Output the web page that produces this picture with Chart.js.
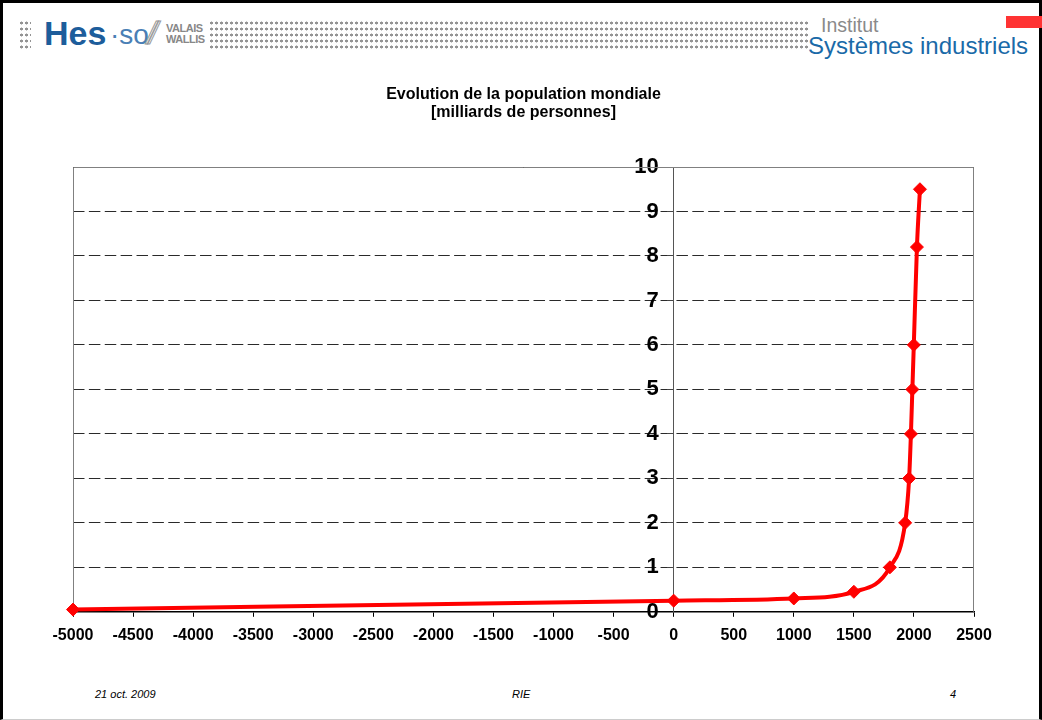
<!DOCTYPE html>
<html>
<head>
<meta charset="utf-8">
<script src="https://cdn.jsdelivr.net/npm/chart.js@4/dist/chart.umd.min.js"></script>
<style>
  html, body { margin:0; padding:0; background:#fff; }
  body { width:1042px; height:720px; position:relative; overflow:hidden; font-family:"Liberation Sans", Arial, sans-serif; }
  #frame { position:absolute; left:0; top:0; width:1036px; height:716px; border-left:3px solid #000; border-top:3px solid #000; border-right:3px solid #000; border-bottom:1px solid #ccc; box-sizing:content-box; }
  #chartWrap { position:absolute; left:0; top:70px; width:1042px; height:584px; }
  .dots { position:absolute; background-image: radial-gradient(circle, #949494 1.3px, transparent 1.7px); background-size:5px 6px; }
  #hes { position:absolute; left:44px; top:14px; font-size:34px; font-weight:bold; color:#1d5d9b; }
  #so { position:absolute; left:110px; top:19px; font-size:28px; color:#4a7fb5; }
  #slash { position:absolute; left:147px; top:15px; font-size:32px; font-style:italic; color:#fff; -webkit-text-stroke:1px #999; letter-spacing:-7px; }
  #vw { position:absolute; left:166px; top:23px; font-size:11px; line-height:11px; color:#888; font-weight:bold; letter-spacing:-0.5px; }
  #inst { position:absolute; left:821px; top:14px; font-size:19.5px; line-height:22px; color:#8a8a8a; }
  #sys { position:absolute; left:808px; top:33px; font-size:24px; line-height:26px; color:#1a6aa8; }
  #red { position:absolute; left:1006px; top:16px; width:36px; height:12px; background:#ff3333; }
  .foot { position:absolute; top:688px; font-size:11px; font-style:italic; color:#000; }
</style>
</head>
<body>
<div id="frame"></div>
<div class="dots" style="left:19px; top:20px; width:12px; height:31px;"></div>
<div class="dots" style="left:209px; top:20px; width:600px; height:31px;"></div>
<div id="hes">Hes</div>
<div id="so">·so</div>
<div id="slash">//</div>
<div id="vw">VALAIS<br>WALLIS</div>
<div id="inst">Institut</div>
<div id="sys">Systèmes industriels</div>
<div id="red"></div>
<div id="chartWrap"><canvas id="c"></canvas></div>
<div class="foot" style="left:95px;">21 oct. 2009</div>
<div class="foot" style="left:512px;">RIE</div>
<div class="foot" style="left:950px;">4</div>
<script>
const titleLines = ["Evolution de la population mondiale", "[milliards de personnes]"];
const years = [-5000, 0, 1000, 1500, 1800, 1927, 1960, 1975, 1987, 1999, 2025, 2050];
const population = [0.05, 0.25, 0.3, 0.45, 1.0, 2, 3, 4, 5, 6, 8.2, 9.5];
const xMin = -5000, xMax = 2500, xStep = 500;
const yMin = 0, yMax = 10, yStep = 1;
const yLabelAnchorX = -125; // x value where the y labels are right-aligned

const points = years.map((x, i) => ({ x: x, y: population[i] }));

const framePlugin = {
  id: 'frame',
  beforeDatasetsDraw(chart) {
    const a = chart.chartArea, ctx = chart.ctx;
    ctx.save();
    ctx.strokeStyle = '#808080';
    ctx.lineWidth = 1;
    ctx.beginPath();
    ctx.moveTo(a.left + 0.5, a.bottom);
    ctx.lineTo(a.left + 0.5, a.top + 0.5);
    ctx.lineTo(a.right - 0.5, a.top + 0.5);
    ctx.lineTo(a.right - 0.5, a.bottom);
    ctx.stroke();
    ctx.restore();
  }
};

new Chart(document.getElementById('c'), {
  type: 'scatter',
  data: {
    datasets: [{
      data: points,
      showLine: true,
      borderColor: '#ff0000',
      backgroundColor: '#ff0000',
      borderWidth: 4,
      pointStyle: 'rectRot',
      pointRadius: 6.5,
      pointBorderWidth: 1,
      pointBorderColor: '#ff0000',
      pointBackgroundColor: '#ff0000',
      cubicInterpolationMode: 'monotone',
      clip: false
    }]
  },
  options: {
    responsive: true,
    maintainAspectRatio: false,
    animation: false,
    layout: { padding: { left: 73, right: 68, top: 0, bottom: 0 } },
    plugins: {
      legend: { display: false },
      tooltip: { enabled: false },
      title: {
        display: true,
        text: titleLines,
        color: '#000',
        font: { family: 'Liberation Sans, Arial', size: 16, weight: 'bold', lineHeight: 1.125 },
        padding: { top: 16, bottom: 45 }
      }
    },
    scales: {
      x: {
        type: 'linear',
        position: 'bottom',
        min: xMin, max: xMax,
        ticks: { stepSize: xStep, color: '#000', font: { family: 'Liberation Sans, Arial', size: 16, weight: 'bold' }, padding: 9, maxRotation: 0, autoSkip: false,
                 callback: (v) => String(v) },
        grid: { display: true, drawOnChartArea: false, drawTicks: true, tickLength: 5, color: '#000' },
        border: { display: true, color: '#000', width: 1.5 }
      },
      yGrid: {
        type: 'linear',
        axis: 'y',
        position: 'left',
        min: yMin, max: yMax,
        afterFit: (s) => { s.width = 0; },
        ticks: { stepSize: yStep, display: false },
        grid: { display: true, drawTicks: false, tickLength: 0, color: '#2a2a2a', lineWidth: 1 },
        border: { display: false, dash: [11.5, 4.38], dashOffset: 0 }
      },
      y: {
        type: 'linear',
        position: { x: 0 },
        min: yMin, max: yMax,
        ticks: { stepSize: yStep, display: false },
        grid: { display: true, drawOnChartArea: false, tickLength: 6, tickColor: '#444', lineWidth: 1 },
        border: { display: true, color: '#555', width: 1 }
      },
      yLabels: {
        type: 'linear',
        axis: 'y',
        position: { x: yLabelAnchorX },
        min: yMin, max: yMax,
        ticks: { stepSize: yStep, color: '#000', font: { family: 'Liberation Sans, Arial', size: 22, weight: 'bold' },
                 callback: (v) => String(v) },
        grid: { display: false },
        border: { display: false }
      }
    }
  },
  plugins: [framePlugin]
});
</script>
</body>
</html>
